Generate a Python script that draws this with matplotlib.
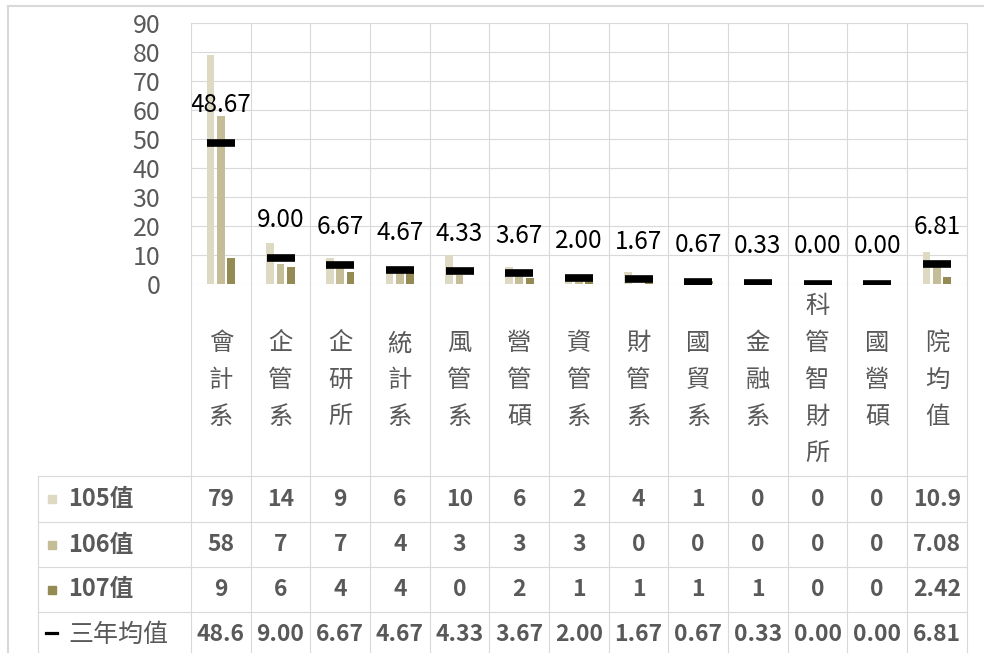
import matplotlib
matplotlib.use("Agg")
import matplotlib.pyplot as plt
from matplotlib.lines import Line2D
from matplotlib.transforms import blended_transform_factory

plt.rcParams['font.family'] = ['Noto Sans CJK TC', 'DejaVu Sans']

# 資料
categories = ['會計系', '企管系', '企研所', '統計系', '風管系', '營管碩', '資管系',
              '財管系', '國貿系', '金融系', '科管智財所', '國營碩', '院均值']
v105 = [79, 14, 9, 6, 10, 6, 2, 4, 1, 0, 0, 0, 10.9]
v106 = [58, 7, 7, 4, 3, 3, 3, 0, 0, 0, 0, 0, 7.08]
v107 = [9, 6, 4, 4, 0, 2, 1, 1, 1, 1, 0, 0, 2.42]
avg3 = [48.67, 9.00, 6.67, 4.67, 4.33, 3.67, 2.00, 1.67, 0.67, 0.33, 0.00, 0.00, 6.81]
series_names = ['105值', '106值', '107值', '三年均值']
colors = ['#DDD9C3', '#C4BD97', '#948A54']

W, H = 984, 653
GRID = '#D9D9D9'
TXT = '#595959'


def fx(px):
    return px / W


def fy(py):
    return 1 - py / H


def cell(v):
    if float(v).is_integer():
        return str(int(v))
    return f"{v:.2f}"[:4]


fig = plt.figure(figsize=(W / 100, H / 100), dpi=100)
ax = fig.add_axes([fx(191), fy(284), fx(966.7) - fx(191), (284 - 22.7) / H])
n = len(categories)
ax.set_xlim(0, n)
ax.set_ylim(0, 90)

x = [i + 0.5 for i in range(n)]
bw = 0.13
ax.bar([i - 0.175 for i in x], v105, bw, color=colors[0], zorder=2)
ax.bar(x, v106, bw, color=colors[1], zorder=2)
ax.bar([i + 0.175 for i in x], v107, bw, color=colors[2], zorder=2)
ax.plot(x, avg3, ls='none', marker='_', ms=20.5, mew=5.5, color='black', zorder=3)
for xi, v in zip(x, avg3):
    ax.annotate(f"{v:.2f}", (xi, v), xytext=(0, 27), textcoords='offset points',
                ha='center', va='center', fontsize=17.5, color='black')

ax.set_yticks(range(0, 91, 10))
ax.tick_params(axis='y', length=0, pad=22, labelsize=18, labelcolor=TXT)
ax.set_xticks([])
for s in ax.spines.values():
    s.set_visible(False)
ax.grid(axis='y', color=GRID, lw=0.8, zorder=0)

trans = blended_transform_factory(ax.transData, fig.transFigure)

# 縱向格線 (延伸到資料表)
for b in range(n + 1):
    fig.add_artist(Line2D([b, b], [fy(22.7), 0], transform=trans, color=GRID, lw=0.8))
fig.add_artist(Line2D([fx(38), fx(38)], [fy(476), 0], transform=fig.transFigure, color=GRID, lw=0.8))
for ry in [476, 522, 567, 612]:
    fig.add_artist(Line2D([fx(38), fx(966.7)], [fy(ry), fy(ry)], transform=fig.transFigure,
                          color=GRID, lw=0.8))

# 外框
fig.add_artist(Line2D([fx(8), 1], [fy(6), fy(6)], transform=fig.transFigure, color=GRID, lw=1.5))
fig.add_artist(Line2D([fx(8), fx(8)], [fy(6), 0], transform=fig.transFigure, color=GRID, lw=1.5))

# 類別標籤 (直書)
for xi, name in zip(x, categories):
    k = len(name)
    for j, ch in enumerate(name):
        py = 380 + (j - (k - 1) / 2) * 37
        fig.text(xi, fy(py), ch, transform=trans, ha='center', va='center',
                 fontsize=17.5, color=TXT)

# 資料表
rows = [v105, v106, v107, avg3]
row_y = [499, 544.5, 589.5, 634.5]
for r, (vals, ry) in enumerate(zip(rows, row_y)):
    for xi, v in zip(x, vals):
        s = cell(v) if r < 3 else f"{v:.2f}"[:4]
        fig.text(xi, fy(ry), s, transform=trans, ha='center', va='center',
                 fontsize=16.5, fontweight='bold', color=TXT)
    if r < 3:
        fig.add_artist(Line2D([fx(51.5)], [fy(ry)], transform=fig.transFigure, marker='s',
                              ms=5.2, color=colors[r], ls='none'))
        fig.text(fx(68), fy(ry), series_names[r], ha='left', va='center',
                 fontsize=17, fontweight='bold', color=TXT)
    else:
        fig.add_artist(Line2D([fx(46), fx(57)], [fy(ry - 2), fy(ry - 2)],
                              transform=fig.transFigure, color='black', lw=2.3))
        fig.text(fx(68), fy(ry), series_names[r], ha='left', va='center',
                 fontsize=18, color=TXT)

fig.savefig('out.png', dpi=100)
